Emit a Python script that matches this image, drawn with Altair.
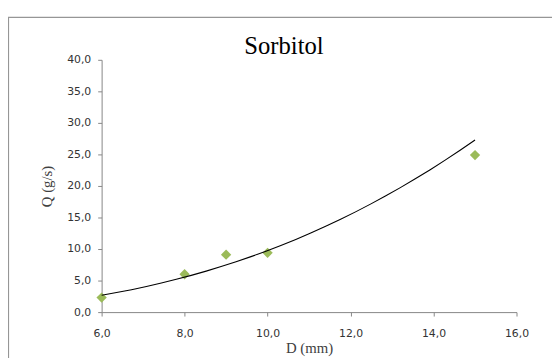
import altair as alt
import pandas as pd

D_mm = [6.0, 8.0, 9.0, 10.0, 15.0]
Q_gs = [2.3, 6.0, 9.1, 9.4, 24.9]
chart_title = ["Sorbitol"]
x_ticks = [6, 8, 10, 12, 14, 16]
y_ticks = [0, 5, 10, 15, 20, 25, 30, 35, 40]

df = pd.DataFrame({"D": D_mm, "Q": Q_gs})
tdf = pd.DataFrame({"t": chart_title})

label_expr = "replace(format(datum.value, '.1f'), '.', ',')"

x_axis = alt.Axis(values=x_ticks, labelExpr=label_expr,
                  title="D (mm)", titleFont="Liberation Serif", titleFontSize=15,
                  titleFontWeight="normal", titleColor="#404040", titlePadding=2,
                  labelFont="DejaVu Sans", labelFontSize=11, labelColor="#333333",
                  labelPadding=12, tickSize=4, grid=False, labelFlush=False,
                  labelOverlap=False, domainColor="#868686", tickColor="#868686")
y_axis = alt.Axis(values=y_ticks, labelExpr=label_expr,
                  title="Q (g/s)", titleFont="Liberation Serif", titleFontSize=15,
                  titleFontWeight="normal", titleColor="#404040", titlePadding=12,
                  labelFont="DejaVu Sans", labelFontSize=11, labelColor="#333333",
                  labelPadding=7, tickSize=4, grid=False, labelFlush=False,
                  labelOverlap=False, domainColor="#868686", tickColor="#868686")
x_scale = alt.Scale(domain=[6, 16], nice=False, zero=False)
y_scale = alt.Scale(domain=[0, 40], nice=False)

x_enc = alt.X("D:Q", scale=x_scale, axis=x_axis)
y_enc = alt.Y("Q:Q", scale=y_scale, axis=y_axis)

points = alt.Chart(df).mark_point(shape="diamond", filled=True, size=110,
                                  color="#9BBB59", opacity=1).encode(x=x_enc, y=y_enc)

trend = alt.Chart(df).transform_regression("D", "Q", method="pow", extent=[6, 15]).mark_line(
    color="#000000", strokeWidth=1.1).encode(x=x_enc, y=y_enc)

frame = alt.Chart(tdf).mark_rect(fill=None, stroke="#969696", strokeWidth=1.2).encode(
    x=alt.value(-94.5), x2=alt.value(520), y=alt.value(-43), y2=alt.value(340))

title = alt.Chart(tdf).mark_text(font="Liberation Serif", fontSize=25, color="#000000",
                                 align="center", baseline="alphabetic").encode(
    text="t:N", x=alt.value(185), y=alt.value(-6))

chart = alt.layer(points, trend, frame, title).properties(
    width=421, height=256,
    autosize=alt.AutoSizeParams(type="none"),
    padding={"left": 95, "top": 50, "right": 36, "bottom": 44},
).configure_view(stroke=None)

chart.save("out.html", embed_options={"renderer": "svg", "actions": False})
